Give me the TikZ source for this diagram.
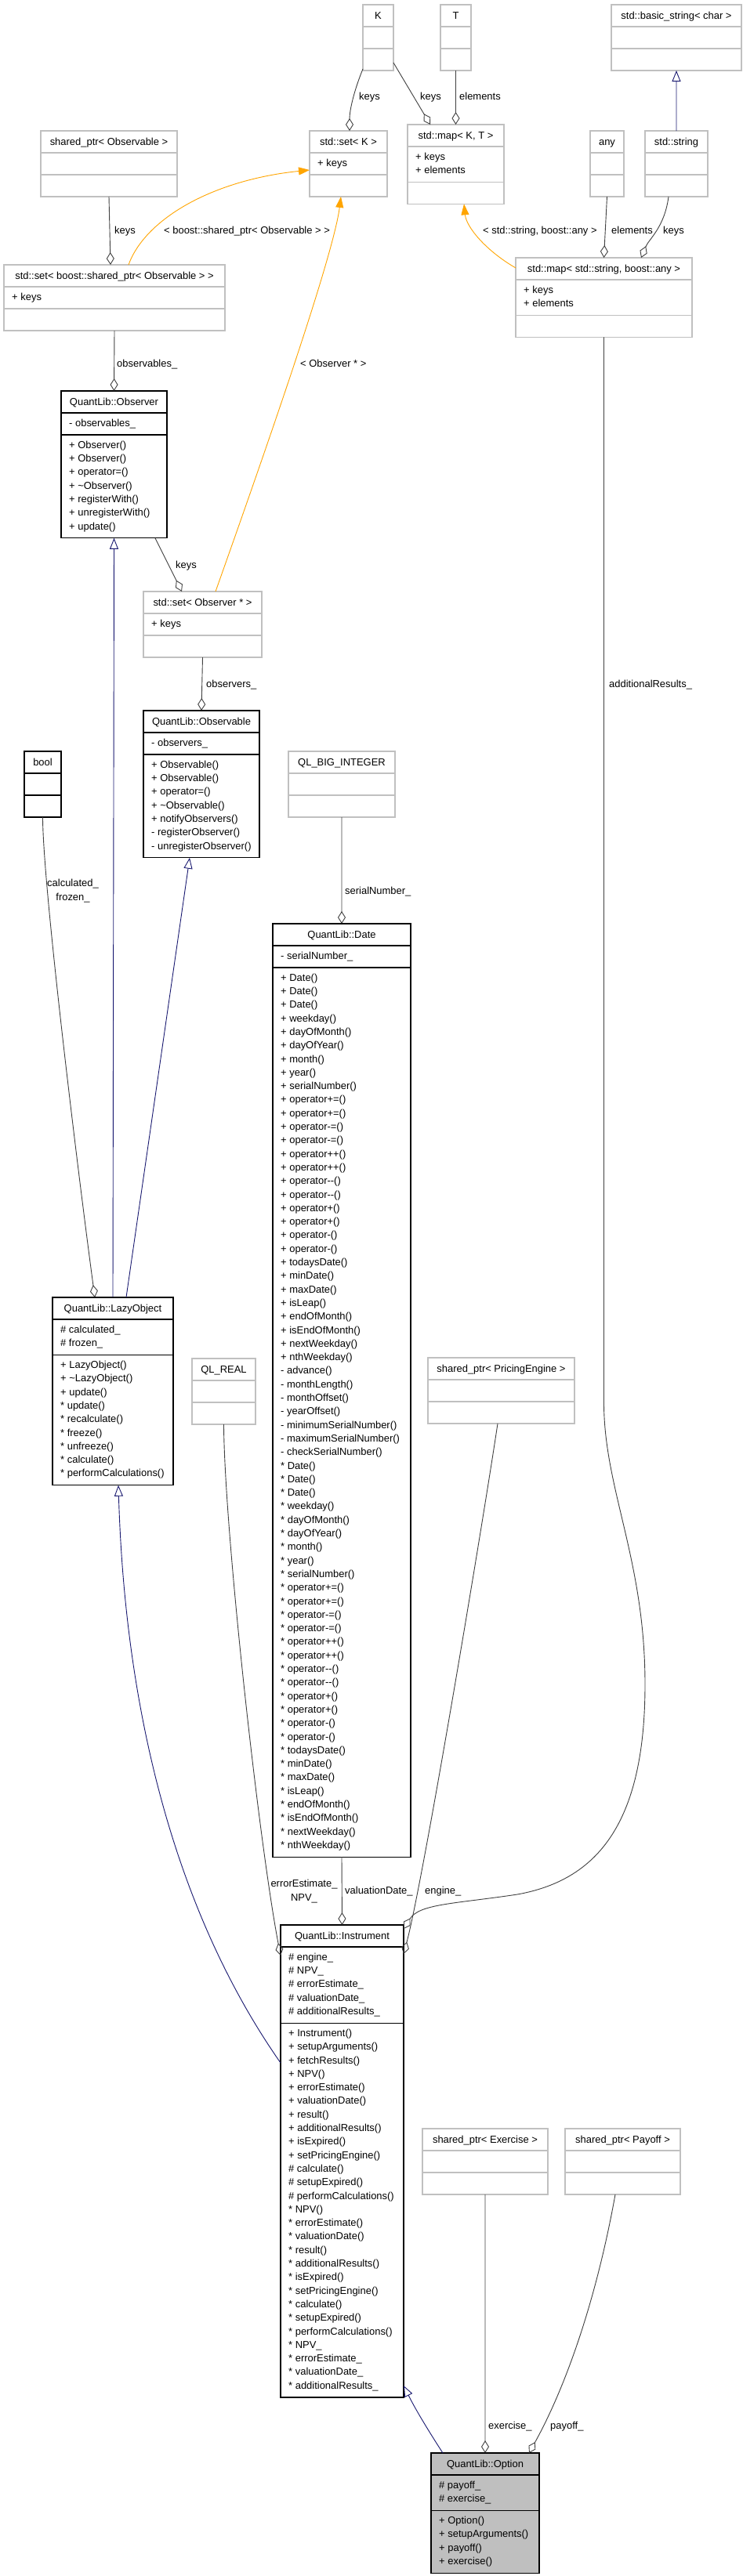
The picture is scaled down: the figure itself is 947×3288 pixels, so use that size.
\documentclass[tikz,border=0pt]{standalone}
\usepackage{fontspec}
\newfontfamily\umlfont{Liberation Sans}
\usetikzlibrary{arrows.meta}
\definecolor{boxgray}{HTML}{C0C0C0}
\definecolor{edgegray}{HTML}{404040}
\definecolor{inhblue}{HTML}{191970}
\definecolor{tplorange}{HTML}{FFA500}
\definecolor{optfill}{HTML}{BFBFBF}
\tikzset{
  every node/.style={font=\umlfont\fontsize{13}{15.6}\selectfont},
  extbox/.style={draw=boxgray, line width=1.2bp, fill=white, inner sep=0pt, outer sep=0pt, rectangle},
  intbox/.style={draw=black, line width=1.2bp, fill=white, inner sep=0pt, outer sep=0pt, rectangle},
  optbox/.style={draw=black, line width=1.2bp, fill=optfill, inner sep=0pt, outer sep=0pt, rectangle},
  extsep/.style={draw=boxgray, line width=1.2bp},
  intsep/.style={draw=black, line width=1.2bp},
  optsep/.style={draw=black, line width=1.2bp},
  hdrtxt/.style={anchor=base, inner sep=0pt},
  rowtxt/.style={anchor=base west, inner sep=0pt},
  lbl/.style={anchor=base west, inner sep=0pt},
  lbl2/.style={anchor=center, inner sep=0pt, align=center, font=\umlfont\fontsize{13}{17.5}\selectfont},
  agg/.style={draw=edgegray, line width=0.9bp, -{Diamond[open, length=16bp, width=10bp]}},
  inh/.style={draw=inhblue, line width=0.9bp, -{Triangle[open, length=14bp, width=11bp]}},
  tpl/.style={draw=tplorange, line width=0.9bp, -{Triangle[length=14bp, width=10bp]}},
}
% name, x, y, w, h, sep1, sep2, kind
\newcommand\classbox[8]{%
  \node[#8box, minimum width=#4bp, minimum height=#5bp, anchor=north west] (#1) at (#2,#3) {};
  \draw[#8sep] (#1.north west) ++(0,#6) -- ++(#4,0);
  \draw[#8sep] (#1.north west) ++(0,#7) -- ++(#4,0);
}
\newcommand\hdr[2]{\path (#1.north) ++(0,18.7) node[hdrtxt] (#1-h) {#2};}
% box, prefix, section top offset, list
\newcommand\rows[4]{%
  \foreach \rowline [count=\rowno from 0] in {#4} {
    \path (#1.north west) ++(10, #3+17.2+\rowno*17.3) node[rowtxt] (#1-#2\rowno) {\rowline};
  }
}
\newcommand\dm{\mbox{-}\mbox{-}}
\begin{document}
\begin{tikzpicture}[x=1bp, y=-1bp]
\useasboundingbox (0,0) rectangle (947,3288);
\fill[white] (0,0) rectangle (947,3288);

% ---------- boxes ----------
\classbox{kK}{463}{6}{39}{84}{28}{56}{ext}
\hdr{kK}{K}
\classbox{kT}{562}{6}{39}{84}{28}{56}{ext}
\hdr{kT}{T}
\classbox{basicstr}{780}{6}{166}{84}{28}{56}{ext}
\hdr{basicstr}{std::basic\_string< char >}
\classbox{spObs}{52}{167}{174}{84}{28}{56}{ext}
\hdr{spObs}{shared\_ptr< Observable >}
\classbox{setK}{395}{167}{99}{84}{28}{56}{ext}
\hdr{setK}{std::set< K >}
\rows{setK}{a}{28}{+ keys}
\classbox{mapKT}{520}{159}{123}{101.3}{28}{73.3}{ext}
\hdr{mapKT}{std::map< K, T >}
\rows{mapKT}{a}{28}{+ keys, + elements}
\classbox{any}{753}{167}{43}{84}{28}{56}{ext}
\hdr{any}{any}
\classbox{stdstring}{823}{167}{80}{84}{28}{56}{ext}
\hdr{stdstring}{std::string}
\classbox{setSP}{5}{338}{282}{84}{28}{56}{ext}
\hdr{setSP}{std::set< boost::shared\_ptr< Observable > >}
\rows{setSP}{a}{28}{+ keys}
\classbox{map2}{658}{329}{225}{101.3}{28}{73.3}{ext}
\hdr{map2}{std::map< std::string, boost::any >}
\rows{map2}{a}{28}{+ keys, + elements}

\classbox{observer}{78}{499}{135}{187.8}{28}{56}{int}
\hdr{observer}{QuantLib::Observer}
\rows{observer}{a}{28}{- observables\_}
\rows{observer}{m}{56}{+ Observer(), + Observer(), + operator=(), + \textasciitilde Observer(), + registerWith(), + unregisterWith(), + update()}

\classbox{setObs}{183}{755}{151}{84}{28}{56}{ext}
\hdr{setObs}{std::set< Observer * >}
\rows{setObs}{a}{28}{+ keys}

\classbox{observable}{183}{907}{148}{187.8}{28}{56}{int}
\hdr{observable}{QuantLib::Observable}
\rows{observable}{a}{28}{- observers\_}
\rows{observable}{m}{56}{+ Observable(), + Observable(), + operator=(), + \textasciitilde Observable(), + notifyObservers(), - registerObserver(), - unregisterObserver()}

\classbox{bool}{31}{959}{47}{84}{28}{56}{int}
\hdr{bool}{bool}
\classbox{bigint}{368}{959}{136}{84}{28}{56}{ext}
\hdr{bigint}{QL\_BIG\_INTEGER}

\classbox{date}{348}{1179}{176}{1191.2}{28}{56}{int}
\hdr{date}{QuantLib::Date}
\rows{date}{a}{28}{- serialNumber\_}
\rows{date}{m}{56}{+ Date(), + Date(), + Date(), + weekday(), + dayOfMonth(), + dayOfYear(), + month(), + year(), + serialNumber(), + operator+=(), + operator+=(), + operator-=(), + operator-=(), + operator++(), + operator++(), + operator\dm(), + operator\dm(), + operator+(), + operator+(), + operator-(), + operator-(), + todaysDate(), + minDate(), + maxDate(), + isLeap(), + endOfMonth(), + isEndOfMonth(), + nextWeekday(), + nthWeekday(), - advance(), - monthLength(), - monthOffset(), - yearOffset(), - minimumSerialNumber(), - maximumSerialNumber(), - checkSerialNumber(), * Date(), * Date(), * Date(), * weekday(), * dayOfMonth(), * dayOfYear(), * month(), * year(), * serialNumber(), * operator+=(), * operator+=(), * operator-=(), * operator-=(), * operator++(), * operator++(), * operator\dm(), * operator\dm(), * operator+(), * operator+(), * operator-(), * operator-(), * todaysDate(), * minDate(), * maxDate(), * isLeap(), * endOfMonth(), * isEndOfMonth(), * nextWeekday(), * nthWeekday()}

\classbox{lazy}{67}{1656}{154}{239.7}{28}{73.3}{int}
\hdr{lazy}{QuantLib::LazyObject}
\rows{lazy}{a}{28}{\# calculated\_, \# frozen\_}
\rows{lazy}{m}{73.3}{+ LazyObject(), + \textasciitilde LazyObject(), + update(), * update(), * recalculate(), * freeze(), * unfreeze(), * calculate(), * performCalculations()}

\classbox{qlreal}{245}{1734}{81}{84}{28}{56}{ext}
\hdr{qlreal}{QL\_REAL}
\classbox{pe}{546}{1733}{187}{84}{28}{56}{ext}
\hdr{pe}{shared\_ptr< PricingEngine >}

\classbox{instrument}{358}{2457}{157}{603}{28}{125.2}{int}
\hdr{instrument}{QuantLib::Instrument}
\rows{instrument}{a}{28}{\# engine\_, \# NPV\_, \# errorEstimate\_, \# valuationDate\_, \# additionalResults\_}
\rows{instrument}{m}{125.2}{+ Instrument(), + setupArguments(), + fetchResults(), + NPV(), + errorEstimate(), + valuationDate(), + result(), + additionalResults(), + isExpired(), + setPricingEngine(), \# calculate(), \# setupExpired(), \# performCalculations(), * NPV(), * errorEstimate(), * valuationDate(), * result(), * additionalResults(), * isExpired(), * setPricingEngine(), * calculate(), * setupExpired(), * performCalculations(), * NPV\_, * errorEstimate\_, * valuationDate\_, * additionalResults\_}

\classbox{exercise}{539}{2717}{160}{84}{28}{56}{ext}
\hdr{exercise}{shared\_ptr< Exercise >}
\classbox{payoff}{721}{2717}{147}{84}{28}{56}{ext}
\hdr{payoff}{shared\_ptr< Payoff >}

\classbox{option}{550}{3131}{138}{153.2}{28}{73.3}{opt}
\hdr{option}{QuantLib::Option}
\rows{option}{a}{28}{\# payoff\_, \# exercise\_}
\rows{option}{m}{73.3}{+ Option(), + setupArguments(), + payoff(), + exercise()}

% ---------- connectors ----------
\draw[agg] ([yshift=2bp]kK.south west) .. controls (452,115) and (446,140) .. ([xshift=1.5bp]setK.north);
\node[lbl] (l1) at (458,127.5) {keys};
\draw[agg] ([yshift=10bp]kK.south east) -- ([xshift=-32.5bp]mapKT.north);
\node[lbl] (l2) at (536,127.5) {keys};
\draw[agg] (kT.south) -- (mapKT.north);
\node[lbl] (l3) at (586,127.5) {elements};
\draw[inh] (stdstring.north) -- (basicstr.south);

\draw[agg] (spObs.south) -- ([xshift=-5bp]setSP.north);
\node[lbl] (l4) at (146,298.5) {keys};
\draw[tpl] ([xshift=18bp]setSP.north) .. controls (185,280) and (270,230) .. ([yshift=-50bp]setK.north west);
\node[lbl] (l5) at (209,298.5) {< boost::shared\_ptr< Observable > >};
\draw[tpl] ([xshift=16.5bp]setObs.north) .. controls (330,600) and (425,330) .. ([xshift=-9.5bp]setK.south);
\node[lbl] (l6) at (383,468.5) {< Observer * >};
\draw[tpl] ([yshift=-13bp]map2.north west) .. controls (620,320) and (595,290) .. ([xshift=10.5bp]mapKT.south);
\node[lbl] (l7) at (616,298.5) {< std::string, boost::any >};
\draw[agg] (any.south) -- (map2.north);
\node[lbl] (l8) at (780,298.5) {elements};
\draw[agg] ([xshift=-10bp]stdstring.south) .. controls (848,290) and (828,305) .. ([xshift=47.5bp]map2.north);
\node[lbl] (l9) at (846,298.5) {keys};

\draw[agg] (setSP.south) -- (observer.north);
\node[lbl] (l10) at (149,468.5) {observables\_};
\draw[agg] ([xshift=52.5bp]observer.south) -- ([xshift=-26.5bp]setObs.north);
\node[lbl] (l11) at (224,725.5) {keys};
\draw[agg] (setObs.south) -- (observable.north);
\node[lbl] (l12) at (263,877.5) {observers\_};

\draw[inh] (lazy.north) -- (observer.south);
\draw[inh] ([xshift=17bp]lazy.north) -- ([xshift=-15bp]observable.south);
\draw[agg] (bool.south) .. controls (54.5,1130) and (100,1500) .. ([xshift=-23bp]lazy.north);
\node[lbl2] (l13) at (93,1137) {calculated\_\\frozen\_};

\draw[agg] (bigint.south) -- (date.north);
\node[lbl] (l14) at (440,1141.5) {serialNumber\_};
\draw[agg] (map2.south) -- ++(0,1360) .. controls +(0,110) and (823,1990) .. (823,2150)
   .. controls (823,2330) and (760,2400) .. (660,2418)
   .. controls (580,2430) and (535,2430) .. ([yshift=-5bp]instrument.north east);
\node[lbl] (l15) at (777,877.5) {additionalResults\_};

\draw[agg] (date.south) -- (instrument.north);
\node[lbl] (l16) at (440,2417.5) {valuationDate\_};
\draw[agg] (qlreal.south) .. controls (286,1950) and (330,2350) .. ([yshift=-39bp]instrument.north west);
\node[lbl2] (l17) at (388,2414) {errorEstimate\_\\NPV\_};
\draw[agg] ([xshift=-4.5bp]pe.south) .. controls (615,1950) and (540,2400) .. ([yshift=-37bp]instrument.north east);
\node[lbl] (l18) at (542,2417.5) {engine\_};

\draw[inh] ([yshift=-176bp]instrument.north west) .. controls (230,2450) and (160,2200) .. ([xshift=7bp]lazy.south);
\draw[inh] ([xshift=-54bp]option.north) .. controls (545,3100) and (530,3075) .. ([yshift=15bp]instrument.south east);

\draw[agg] (exercise.south) -- (option.north);
\node[lbl] (l19) at (623,3100.5) {exercise\_};
\draw[agg] ([xshift=-9.5bp]payoff.south) .. controls (760,2940) and (720,3050) .. ([xshift=56bp]option.north);
\node[lbl] (l20) at (702,3100.5) {payoff\_};
\end{tikzpicture}
\end{document}
